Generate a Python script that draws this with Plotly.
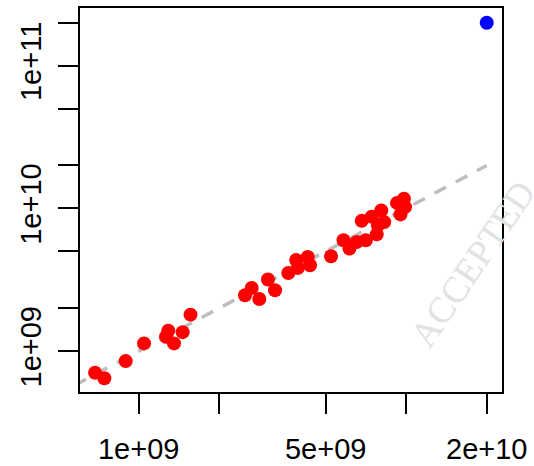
import plotly.graph_objects as go

x_red = [6.87e8, 7.44e8, 8.94e8, 1.047e9, 1.29e9, 1.265e9, 1.355e9, 1.46e9, 1.562e9,
         2.497e9, 2.645e9, 2.824e9, 3.043e9, 3.233e9, 3.625e9, 3.88e9, 3.93e9, 4.286e9,
         4.369e9, 5.236e9, 5.83e9, 6.138e9, 6.531e9, 7.063e9, 6.817e9, 7.43e9, 7.757e9,
         7.845e9, 8.07e9, 8.276e9, 9.24e9, 9.81e9, 9.9e9, 9.52e9]
y_red = [7.05e8, 6.45e8, 8.51e8, 1.132e9, 1.39e9, 1.259e9, 1.132e9, 1.358e9, 1.80e9,
         2.464e9, 2.767e9, 2.317e9, 3.172e9, 2.671e9, 3.529e9, 4.35e9, 3.82e9, 4.564e9,
         3.994e9, 4.616e9, 5.975e9, 5.226e9, 5.81e9, 5.975e9, 8.178e9, 8.75e9, 6.58e9,
         7.605e9, 9.68e9, 8.02e9, 1.093e10, 1.169e10, 1.021e10, 9.08e9]
x_blue = [2e10]
y_blue = [2e11]

# Identity reference line
line_x = [4e8, 2e10]
line_y = [4e8, 2e10]

x_tickvals = [1e9, 2e9, 5e9, 1e10, 2e10]
x_ticktext = ["1e+09", "", "5e+09", "", "2e+10"]
y_tickvals = [1e9, 2e9, 5e9, 1e10, 2e10, 5e10, 1e11, 2e11]
y_ticktext = ["1e+09", "", "", "1e+10", "", "", "1e+11", ""]

x_range_log = [8.7806, 10.3581]
y_range_log = [8.7133, 11.4045]

fig = go.Figure()
fig.add_trace(go.Scatter(x=line_x, y=line_y, mode="lines",
                         line=dict(color="#BEBEBE", width=3.5, dash="13px,11px"),
                         hoverinfo="skip", showlegend=False))
fig.add_trace(go.Scatter(x=x_red, y=y_red, mode="markers",
                         marker=dict(color="#FF0000", size=14, line=dict(width=0)),
                         showlegend=False))
fig.add_trace(go.Scatter(x=x_blue, y=y_blue, mode="markers",
                         marker=dict(color="#0000FF", size=14, line=dict(width=0)),
                         showlegend=False))

axis_common = dict(
    showline=True, linecolor="black", linewidth=1.5, mirror=True,
    ticks="outside", ticklen=20, tickwidth=1.5, tickcolor="black",
    showgrid=False, zeroline=False, automargin=False,
    tickfont=dict(family="Liberation Sans, Arial, sans-serif", size=29, color="black"),
)

fig.update_xaxes(type="log", range=x_range_log, tickmode="array",
                 tickvals=x_tickvals, ticktext=x_ticktext, ticklabelstandoff=10,
                 **axis_common)
fig.update_yaxes(type="log", range=y_range_log, tickmode="array",
                 tickvals=y_tickvals, ticktext=y_ticktext, tickangle=-90,
                 ticklabelstandoff=6, **axis_common)

fig.add_annotation(text="ACCEPTED", xref="paper", yref="paper",
                   x=0.929, y=0.333, xanchor="center", yanchor="middle",
                   showarrow=False, textangle=-55.8,
                   font=dict(family="Liberation Serif, Times New Roman, serif",
                             size=37, color="#E2E2E2"))

fig.update_layout(width=534, height=466,
                  margin=dict(l=80, r=32, t=8, b=74),
                  paper_bgcolor="white", plot_bgcolor="white")

fig.write_html("out.html", config={"displayModeBar": False},
               post_script="document.body.style.margin='0';document.body.style.padding='0';")
